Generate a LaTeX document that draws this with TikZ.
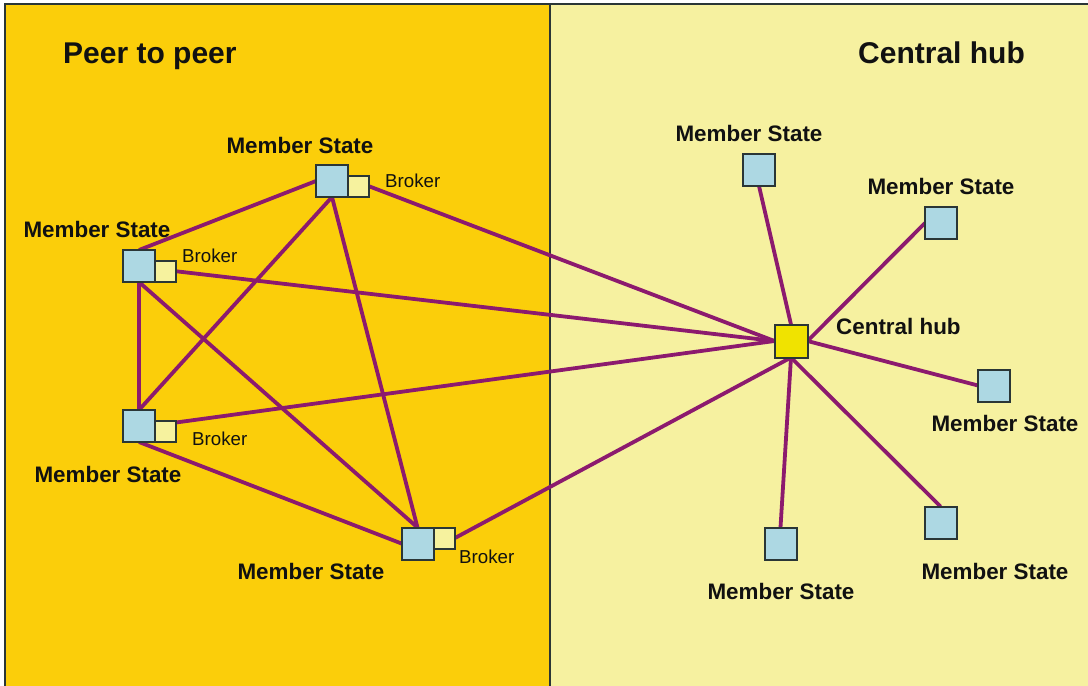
\documentclass[tikz,border=0pt]{standalone}
\usepackage{fontspec}
\setmainfont{Liberation Sans}
\usetikzlibrary{positioning}
\pgfdeclarelayer{panel}
\pgfdeclarelayer{edges}
\pgfsetlayers{panel,edges,main}

\definecolor{peerbg}{HTML}{FBCE0A}
\definecolor{hubbg}{HTML}{F6F1A0}
\definecolor{msfill}{HTML}{ADD8E3}
\definecolor{brkfill}{HTML}{F6F29E}
\definecolor{hubfill}{HTML}{F0E300}
\definecolor{linkcol}{HTML}{8C1A6E}
\definecolor{framecol}{HTML}{2A3636}
\definecolor{textcol}{HTML}{111111}

\tikzset{
  member/.style={draw=framecol, line width=2pt, fill=msfill, minimum size=32pt, inner sep=0pt, outer sep=0pt},
  brokerbox/.style={draw=framecol, line width=2pt, fill=brkfill, minimum width=21pt, minimum height=21.5pt, inner sep=0pt, outer sep=0pt},
  hubbox/.style={draw=framecol, line width=2pt, fill=hubfill, minimum size=33pt, inner sep=0pt, outer sep=0pt},
  link/.style={draw=linkcol, line width=3.8pt},
  mslabel/.style={text=textcol, font=\fontsize{22.4}{26}\selectfont\bfseries, inner sep=0pt},
  brklabel/.style={text=textcol, font=\fontsize{18.7}{22}\selectfont, inner sep=0pt, anchor=west},
  title/.style={text=textcol, font=\fontsize{30}{34}\selectfont\bfseries, inner sep=0pt, anchor=base west},
}

\begin{document}
\begin{tikzpicture}[x=1pt, y=-1pt]
\useasboundingbox (0,0) rectangle (1088,686);

% two panels and their frame
\begin{pgfonlayer}{panel}
  \fill[white] (0,0) rectangle (1088,686);
  \fill[peerbg] (5,4) rectangle (550,686);
  \fill[hubbg] (550,4) rectangle (1088,686);
  \draw[framecol, line width=2pt] (5,686) -- (5,4) -- (1088,4);
  \draw[framecol, line width=2pt] (550,4) -- (550,686);
\end{pgfonlayer}

% titles
\node[title] (tpeer) at (63,63) {Peer to peer};
\node[title] (thub) at (858,63) {Central hub};

% peer-to-peer member states with their brokers
\node[member] (A) at (332,181) {};
\node[brokerbox, anchor=south west] (Ab) at (A.south east) {};
\node[member] (B) at (139,266) {};
\node[brokerbox, anchor=south west] (Bb) at (B.south east) {};
\node[member] (C) at (139,426) {};
\node[brokerbox, anchor=south west] (Cb) at (C.south east) {};
\node[member] (D) at (417.5,543.5) {};
\node[brokerbox, anchor=north west] (Db) at (D.north east) {};

% central hub and its member states
\node[hubbox] (H) at (791,341) {};
\node[member] (R1) at (759,170) {};
\node[member] (R2) at (941,223) {};
\node[member] (R3) at (994,385.5) {};
\node[member] (R4) at (940.5,522.5) {};
\node[member] (R5) at (780.5,543.5) {};

% labels
\node[mslabel] (lA) at (300,145) {Member State};
\node[mslabel] (lB) at (97,229) {Member State};
\node[mslabel] (lC) at (108,474) {Member State};
\node[mslabel] (lD) at (311,571) {Member State};
\node[mslabel] (lR1) at (749,133) {Member State};
\node[mslabel] (lR2) at (941,186) {Member State};
\node[mslabel] (lR3) at (1005,423) {Member State};
\node[mslabel] (lR4) at (995,571) {Member State};
\node[mslabel] (lR5) at (781,591) {Member State};
\node[mslabel, anchor=west] (lH) at (836,326) {Central hub};

\node[brklabel] (bA) at (385,181) {Broker};
\node[brklabel] (bB) at (182,256) {Broker};
\node[brklabel] (bC) at (192,439) {Broker};
\node[brklabel] (bD) at (459,557) {Broker};

% connections
\begin{pgfonlayer}{edges}
  \draw[link] (A.west) -- (B.north);
  \draw[link] (A.south) -- (C.north);
  \draw[link] (A.south) -- (D.north);
  \draw[link] (B.south) -- (C.north);
  \draw[link] (B.south) -- (D.north);
  \draw[link] (C.south) -- (D.west);
  \draw[link] (Ab.east) -- (H.west);
  \draw[link] (Bb.east) -- (H.west);
  \draw[link] ([yshift=-2pt]Cb.north east) -- (H.west);
  \draw[link] (Db.east) -- (H.south);
  \draw[link] (H.north) -- (R1.south);
  \draw[link] (H.east) -- (R2.west);
  \draw[link] (H.east) -- (R3.west);
  \draw[link] (H.south) -- (R4.north);
  \draw[link] (H.south) -- (R5.north);
\end{pgfonlayer}
\end{tikzpicture}
\end{document}
